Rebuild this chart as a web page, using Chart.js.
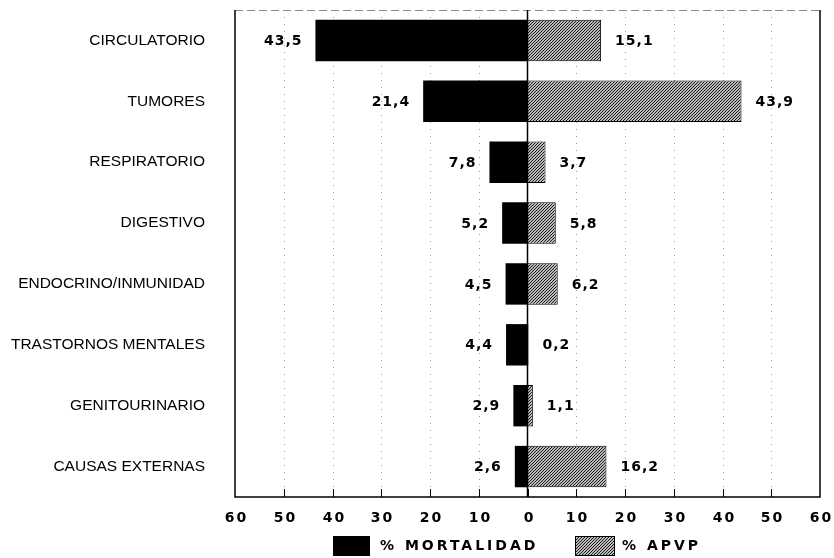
<!DOCTYPE html>
<html>
<head>
<meta charset="utf-8">
<script src="https://cdn.jsdelivr.net/npm/chart.js@4.4.1/dist/chart.umd.min.js"></script>
<style>
  html, body { margin: 0; padding: 0; background: #fff; }
  #wrap { width: 834px; height: 558px; position: relative; }
</style>
</head>
<body>
<div id="wrap"><canvas id="chart"></canvas></div>
<script>
'use strict';

// ── Data ───────────────────────────────────────────────────
const categories = [
    'CIRCULATORIO', 'TUMORES', 'RESPIRATORIO', 'DIGESTIVO',
    'ENDOCRINO/INMUNIDAD', 'TRASTORNOS MENTALES', 'GENITOURINARIO', 'CAUSAS EXTERNAS'
];
const mortalidad = [43.5, 21.4, 7.8, 5.2, 4.5, 4.4, 2.9, 2.6];
const apvp = [15.1, 43.9, 3.7, 5.8, 6.2, 0.2, 1.1, 16.2];
const seriesLabels = ['% MORTALIDAD', '% APVP'];

// ── Hatch pattern ──────────────────────────────────────────
function makeHatch() {
    const c = document.createElement('canvas');
    c.width = 3; c.height = 3;
    const g = c.getContext('2d');
    g.fillStyle = '#fff';
    g.fillRect(0, 0, 3, 3);
    g.strokeStyle = '#111';
    g.lineWidth = 1.1;
    g.beginPath();
    g.moveTo(0, 3); g.lineTo(3, 0);
    g.moveTo(-1, 1); g.lineTo(1, -1);
    g.moveTo(2, 4); g.lineTo(4, 2);
    g.stroke();
    return g.createPattern(c, 'repeat');
}
const hatch = makeHatch();

const fmt = v => v.toFixed(1).replace('.', ',');
const BOLD = '"DejaVu Sans", Verdana, sans-serif';

// ── Custom drawing (grid, frame, labels, legend) ───────────
const framePlugin = {
    id: 'frame',
    beforeDatasetsDraw(chart) {
        const { ctx, chartArea: a, scales: { x } } = chart;
        ctx.save();
        ctx.strokeStyle = '#999';
        ctx.lineWidth = 1;
        ctx.setLineDash([1, 6]);
        x.ticks.forEach(t => {
            if (t.value === 0 || Math.abs(t.value) === 60) return;
            const px = Math.round(x.getPixelForValue(t.value)) + 0.5;
            ctx.beginPath();
            ctx.moveTo(px, a.top);
            ctx.lineTo(px, a.bottom);
            ctx.stroke();
        });
        ctx.restore();
    },
    afterDatasetsDraw(chart) {
        const { ctx, chartArea: a, scales: { x } } = chart;
        ctx.save();

        // frame
        ctx.strokeStyle = '#888';
        ctx.lineWidth = 1;
        ctx.setLineDash([8, 4]);
        ctx.beginPath();
        ctx.moveTo(a.left, a.top + 0.5);
        ctx.lineTo(a.right, a.top + 0.5);
        ctx.stroke();
        ctx.setLineDash([]);
        ctx.strokeStyle = '#000';
        ctx.lineWidth = 1.5;
        ctx.beginPath();
        ctx.moveTo(a.left, a.top);
        ctx.lineTo(a.left, a.bottom);
        ctx.lineTo(a.right, a.bottom);
        ctx.lineTo(a.right, a.top);
        ctx.stroke();

        // zero line
        const zx = x.getPixelForValue(0);
        ctx.beginPath();
        ctx.moveTo(zx, a.top);
        ctx.lineTo(zx, a.bottom);
        ctx.stroke();

        // inner tick marks + tick labels
        ctx.lineWidth = 1;
        ctx.font = 'bold 14px ' + BOLD;
        ctx.letterSpacing = '2px';
        ctx.fillStyle = '#000';
        ctx.textAlign = 'center';
        ctx.textBaseline = 'middle';
        x.ticks.forEach(t => {
            const px = Math.round(x.getPixelForValue(t.value)) + 0.5;
            if (Math.abs(t.value) !== 60) {
                ctx.beginPath();
                ctx.moveTo(px, a.bottom);
                ctx.lineTo(px, a.bottom - 8);
                ctx.stroke();
            }
            ctx.fillText(String(Math.abs(t.value)), px + 1, a.bottom + 21);
        });

        // value labels
        ctx.font = 'bold 14px ' + BOLD;
        ctx.letterSpacing = '1px';
        chart.getDatasetMeta(0).data.forEach((el, i) => {
            ctx.textAlign = 'right';
            ctx.fillText(fmt(mortalidad[i]), el.x - 13, el.y + 1);
        });
        chart.getDatasetMeta(1).data.forEach((el, i) => {
            ctx.textAlign = 'left';
            ctx.fillText(fmt(apvp[i]), el.x + 14, el.y + 1);
        });

        // legend
        const ly = 546;
        ctx.font = 'bold 14px ' + BOLD;
        ctx.letterSpacing = '3px';
        ctx.textAlign = 'left';
        ctx.fillStyle = '#000';
        ctx.fillRect(333, ly - 10, 37, 20);
        ctx.fillText(seriesLabels[0], 380, ly);
        ctx.fillStyle = hatch;
        ctx.fillRect(575, ly - 10, 40, 20);
        ctx.strokeStyle = '#000';
        ctx.strokeRect(575.5, ly - 9.5, 39, 19);
        ctx.fillStyle = '#000';
        ctx.fillText(seriesLabels[1], 622, ly);

        ctx.restore();
    }
};

// ── Chart ──────────────────────────────────────────────────
new Chart(document.getElementById('chart'), {
    type: 'bar',
    data: {
        labels: categories,
        datasets: [
            {
                label: seriesLabels[0],
                data: mortalidad.map(v => -v),
                backgroundColor: '#000',
                borderWidth: 0,
            },
            {
                label: seriesLabels[1],
                data: apvp,
                backgroundColor: hatch,
                borderColor: '#000',
                borderWidth: 1,
            },
        ],
    },
    options: {
        indexAxis: 'y',
        responsive: true,
        maintainAspectRatio: false,
        animation: false,
        categoryPercentage: 0.68,
        barPercentage: 1,
        layout: { padding: { top: 10, right: 14, bottom: 0, left: 0 } },
        scales: {
            x: {
                type: 'linear',
                stacked: true,
                min: -60,
                max: 60,
                ticks: { stepSize: 10, display: false },
                grid: { display: false, drawTicks: false },
                border: { display: false },
                afterFit: s => { s.height = 61; s.paddingLeft = 0; s.paddingRight = 0; },
            },
            y: {
                stacked: true,
                grid: { display: false, drawTicks: false },
                border: { display: false },
                ticks: {
                    color: '#000',
                    padding: 30,
                    font: { family: 'Arial, "Liberation Sans", sans-serif', size: 15.5 },
                },
                afterFit: s => { s.width = 235; s.paddingTop = 0; s.paddingBottom = 0; },
            },
        },
        plugins: {
            legend: { display: false },
            tooltip: { enabled: false },
        },
    },
    plugins: [framePlugin],
});
</script>
</body>
</html>
